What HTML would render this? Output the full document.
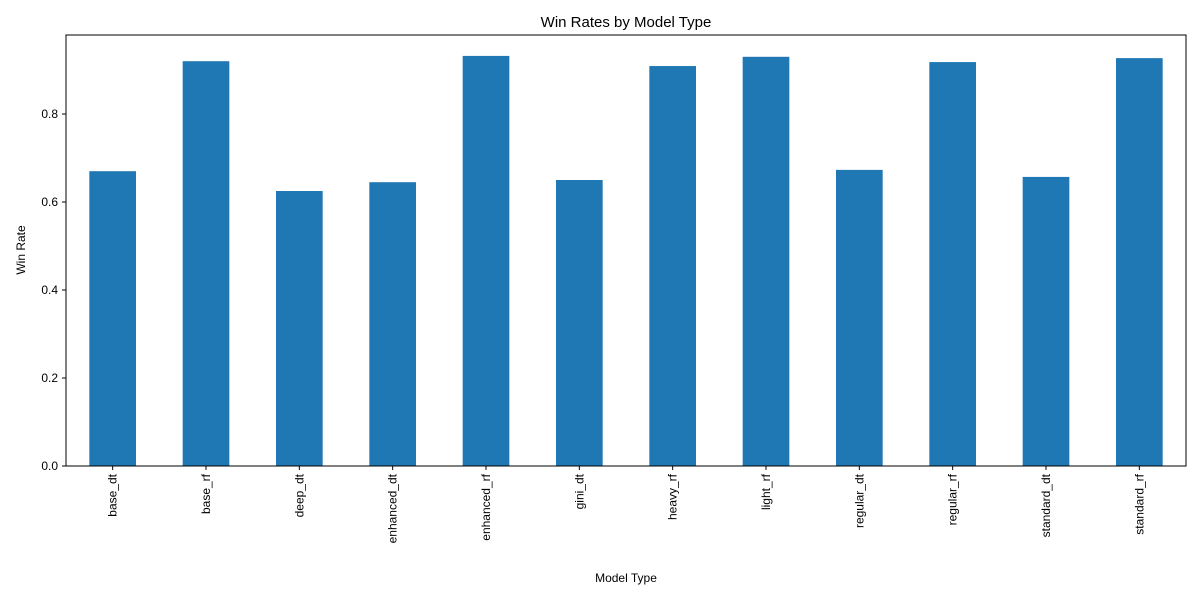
<!DOCTYPE html>
<html><head><meta charset="utf-8"><style>
body{margin:0;background:#fff;}
svg text{font-family:"Liberation Sans","DejaVu Sans",sans-serif;fill:#000;}
</style></head><body>
<svg id="chart" width="1200" height="600" xmlns="http://www.w3.org/2000/svg">
<text x="626" y="27" font-size="15" text-anchor="middle">Win Rates by Model Type</text>
<text x="626" y="582" font-size="12" text-anchor="middle">Model Type</text>
<text transform="translate(25,250) rotate(-90)" font-size="12" text-anchor="middle">Win Rate</text>
<g id="bars"></g><g id="axes"></g>
</svg>
<script>
const categories=["base_dt","base_rf","deep_dt","enhanced_dt","enhanced_rf","gini_dt","heavy_rf","light_rf","regular_dt","regular_rf","standard_dt","standard_rf"];
const winRates=[0.670,0.920,0.625,0.645,0.932,0.650,0.909,0.930,0.673,0.918,0.657,0.927];
const yTicks=[0,0.2,0.4,0.6,0.8];
const yTickLabels=["0.0","0.2","0.4","0.6","0.8"];
const L=66,R=1186,T=35,B=466,NS="http://www.w3.org/2000/svg";
const y=v=>B-v*440;
const step=(R-L)/categories.length;
const x=i=>L+step*(i+0.5);
const bars=document.getElementById('bars'),axes=document.getElementById('axes');
function mk(tag,attrs,parent){const e=document.createElementNS(NS,tag);for(const k in attrs)e.setAttribute(k,attrs[k]);parent.appendChild(e);return e;}
categories.forEach((c,i)=>{
  const w=step*0.5;
  const r=mk('rect',{x:x(i)-w/2,y:y(winRates[i]),width:w,height:B-y(winRates[i]),fill:'#1f77b4'},bars);
  
  
  const t=mk('line',{x1:x(i),x2:x(i),y1:B,y2:B+4,stroke:'#000'},axes);
  
  
  const lb=mk('text',{transform:`translate(${x(i)+4},${B+8}) rotate(-90)`,'font-size':12,'text-anchor':'end'},axes);
  lb.textContent=c;
  
  
});
yTicks.forEach((v,i)=>{
  const t=mk('line',{x1:L-4,x2:L,y1:y(v),y2:y(v),stroke:'#000'},axes);
  
  
  const lb=mk('text',{x:L-8,y:y(v)+4,'font-size':12,'text-anchor':'end'},axes);
  lb.textContent=yTickLabels[i];
  
  
});
const f=mk('rect',{x:L,y:T,width:R-L,height:B-T,fill:'none',stroke:'#000','stroke-width':1},axes);


</script>
</body></html>
